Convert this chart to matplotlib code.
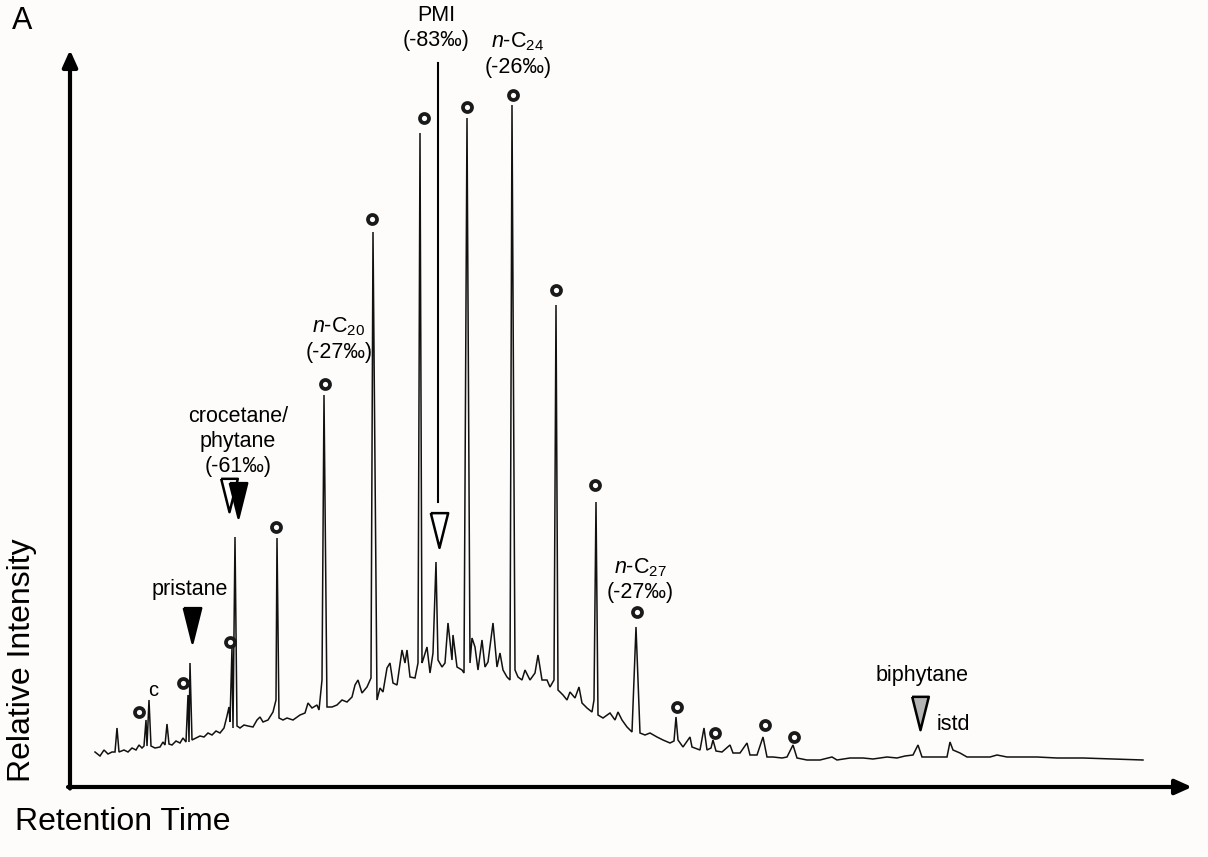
import numpy as np
import matplotlib
matplotlib.use("Agg")
import matplotlib.pyplot as plt

plt.rcParams['font.family'] = ['Liberation Sans', 'DejaVu Sans']
plt.rcParams['mathtext.fontset'] = 'custom'
plt.rcParams['mathtext.rm'] = 'Liberation Sans'
plt.rcParams['mathtext.it'] = 'Liberation Sans:italic'

# chromatogram trace (retention time, arbitrary units / relative intensity)
rt = [27, 32, 36, 40, 44, 47, 49, 51, 56, 60, 64, 68, 71, 74, 76, 78, 79, 81, 83, 87,
      92, 95, 97, 99, 101, 104, 108, 112, 115, 118, 120, 121, 122, 124, 128, 132, 136, 140, 144, 148,
      152, 156, 159, 161, 162, 164, 165, 167, 169, 172, 176, 180, 185, 189, 192, 195, 200, 205, 208, 209,
      211, 215, 219, 225, 232, 237, 240, 244, 249, 251, 254, 256, 259, 264, 269, 274, 279, 284, 287, 290,
      294, 299, 303, 305, 309, 312, 315, 319, 322, 325, 329, 334, 337, 339, 342, 347, 350, 352, 354, 355,
      359, 362, 365, 368, 370, 374, 377, 380, 384, 385, 389, 394, 396, 399, 402, 404, 407, 410, 414, 417,
      420, 425, 429, 432, 435, 439, 442, 444, 447, 450, 454, 457, 462, 467, 470, 474, 479, 482, 486, 488,
      490, 495, 499, 502, 507, 511, 514, 519, 524, 526, 528, 530, 535, 542, 547, 550, 554, 559, 564, 568,
      572, 577, 582, 589, 595, 602, 606, 608, 610, 615, 622, 624, 632, 636, 639, 643, 645, 648, 654, 662,
      665, 672, 679, 682, 689, 695, 699, 705, 714, 719, 725, 729, 739, 752, 764, 769, 782, 795, 805, 819,
      829, 837, 845, 850, 854, 867, 879, 882, 885, 892, 899, 922, 929, 939, 969, 989, 1015, 1075]
intensity = [35, 31, 37, 33, 35, 35, 59, 35, 37, 35, 39, 37, 42, 39, 41, 67, 41, 87, 41, 39,
             40, 45, 42, 63, 43, 42, 46, 44, 49, 45, 92, 45, 124, 47, 49, 51, 50, 54, 52, 56,
             54, 59, 71, 80, 65, 140, 59, 250, 61, 59, 62, 61, 60, 67, 70, 65, 67, 75, 87, 249,
             69, 67, 69, 67, 72, 74, 84, 79, 82, 77, 107, 392, 80, 80, 82, 87, 85, 90, 102, 107,
             94, 100, 109, 555, 87, 99, 95, 119, 124, 104, 102, 137, 124, 137, 110, 109, 124, 654, 124, 127,
             140, 114, 134, 225, 127, 120, 124, 164, 127, 152, 120, 117, 114, 669, 124, 149, 140, 117, 147, 120,
             125, 164, 120, 134, 117, 110, 107, 682, 117, 110, 107, 117, 107, 114, 132, 107, 107, 100, 107, 482,
             97, 92, 87, 95, 89, 100, 84, 79, 75, 87, 285, 72, 69, 74, 67, 75, 67, 60, 55, 160,
             54, 52, 54, 50, 47, 44, 46, 70, 47, 40, 50, 40, 37, 59, 37, 39, 47, 36, 35, 42,
             34, 34, 44, 32, 32, 50, 30, 30, 29, 30, 42, 29, 27, 27, 30, 27, 29, 29, 28, 30,
             29, 31, 32, 42, 30, 30, 30, 45, 37, 34, 30, 30, 32, 30, 30, 29, 29, 27]

# n-alkane markers (open circles)
alkane_rt = [71, 115, 162, 208, 257, 304, 356, 399, 445, 488, 527, 569, 609, 647, 697, 726]
alkane_int = [75, 104, 145, 260, 403, 568, 669, 680, 692, 497, 302, 175, 80, 54, 62, 50]

# isoprenoid markers (triangles): rt, intensity, face colour, height (pt)
tri_rt = [124, 161, 170, 371, 852]
tri_int = [162, 292, 287, 257, 74]
tri_face = ['black', 'white', 'black', 'white', '#b4b4b4']
tri_size = [25, 24, 25, 25, 24]

fig = plt.figure(figsize=(12.08, 8.57), dpi=100, facecolor='#fefcfa')
ax = fig.add_axes([0, 0, 1, 1])
ax.set_facecolor('#fefcfa')
ax.set_xlim(-68, 1140)
ax.set_ylim(-70, 787)
ax.axis('off')

ax.plot(rt, intensity, color='#111111', lw=1.1, solid_joinstyle='miter')

ax.plot(alkane_rt, alkane_int, 'o', ms=6.5, mfc='white', mec='#1a1a1a', mew=2.7, ls='none')

tri_verts = [(-0.5, 1), (0.5, 1), (0, -1), (-0.5, 1)]
for x, y, fc, s in zip(tri_rt, tri_int, tri_face, tri_size):
    ax.plot(x, y, marker=tri_verts, ms=s, mfc=fc, mec='black', mew=1.8, ls='none')

# axes arrows
ax.annotate('', xy=(1124, 0), xytext=(0, 0),
            arrowprops=dict(arrowstyle='-|>,head_length=1.0,head_width=0.45', lw=3, color='black',
                            shrinkA=0, shrinkB=0))
ax.annotate('', xy=(2, 737), xytext=(2, -1.5),
            arrowprops=dict(arrowstyle='-|>,head_length=1.0,head_width=0.45', lw=3, color='black',
                            shrinkA=0, shrinkB=0))

fs = 15.5
ax.text(-46, 766, 'A', fontsize=22, ha='center', va='center')
ax.text(368, 759, 'PMI\n(-83‰)', fontsize=fs, ha='center', va='center', linespacing=1.25)
ax.plot([370, 370], [285, 724], color='black', lw=1.5)
ax.text(450, 733, '$\\it{n}$-C$_{24}$\n(-26‰)', fontsize=fs, ha='center', va='center', linespacing=1.25)
ax.text(271, 448, '$\\it{n}$-C$_{20}$\n(-27‰)', fontsize=fs, ha='center', va='center', linespacing=1.25)
ax.text(170, 346, 'crocetane/\nphytane\n(-61‰)', fontsize=fs, ha='center', va='center', linespacing=1.25)
ax.text(122, 197, 'pristane', fontsize=fs, ha='center', va='center')
ax.text(85, 97, 'c', fontsize=fs - 1, ha='center', va='center')
ax.text(572, 207, '$\\it{n}$-C$_{27}$\n(-27‰)', fontsize=fs, ha='center', va='center', linespacing=1.2)
ax.text(854, 112, 'biphytane', fontsize=fs, ha='center', va='center')
ax.text(885, 62, 'istd', fontsize=fs, ha='center', va='center')

ax.text(-46, 127, 'Relative Intensity', fontsize=23, rotation=90, ha='center', va='center')
ax.text(-53, -35, 'Retention Time', fontsize=23, ha='left', va='center')

fig.savefig('out.png', dpi=100, facecolor=fig.get_facecolor())
